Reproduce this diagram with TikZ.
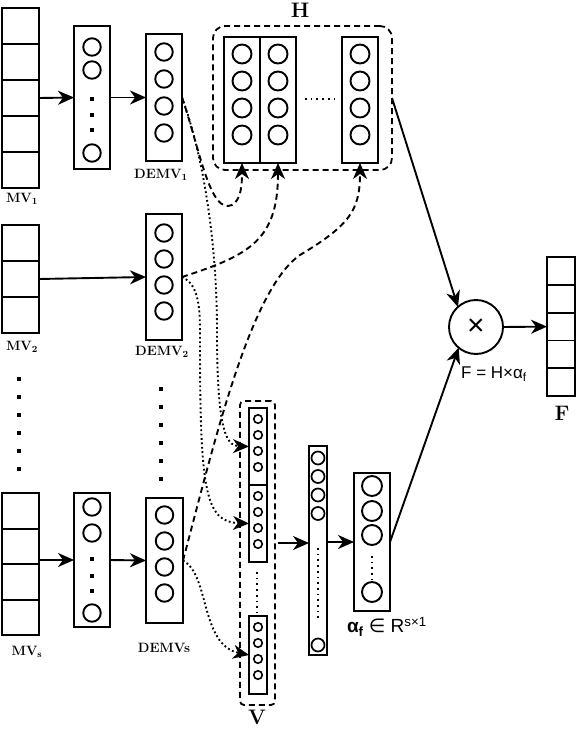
\documentclass[tikz,border=0pt]{standalone}
\usepackage{fontspec}
\newfontfamily\lsans{Liberation Sans}
\newfontfamily\dvsans{DejaVu Sans}
\usetikzlibrary{arrows.meta,calc}
\begin{document}
\begin{tikzpicture}[x=1pt,y=-1pt,
  every node/.style={inner sep=0pt, outer sep=0pt},
  cellv/.style={draw, line width=2pt, minimum width=37pt, minimum height=36pt},
  fcell/.style={draw, line width=1.8pt, minimum width=28pt, minimum height=27.8pt},
  col/.style={draw, line width=2pt},
  nc/.style={circle, draw, line width=1.9pt, minimum size=17.5pt},
  hc/.style={circle, draw, line width=1.9pt, minimum size=19pt},
  sc/.style={circle, draw, line width=1.6pt, minimum size=8.5pt},
  mc/.style={circle, draw, line width=1.7pt, minimum size=13pt},
  ac/.style={circle, draw, line width=1.9pt, minimum size=20pt},
  sq/.style={fill, minimum size=4.8pt},
  vdot/.style={fill, minimum size=4.2pt},
  arr/.style={-{Stealth[length=16pt,width=14pt,inset=5pt]}, line width=1.9pt},
  dsh/.style={arr, dash pattern=on 6pt off 4pt},
  dtt/.style={arr, dash pattern=on 1.8pt off 2.6pt},
  grp/.style={draw, line width=1.8pt, dash pattern=on 6pt off 4pt},
  fine/.style={line width=1.7pt, dash pattern=on 1.7pt off 4pt},
  lab/.style={font=\fontsize{13.5}{15}\selectfont\bfseries},
  big/.style={font=\fontsize{21}{23}\selectfont\bfseries},
  sl/.style={font=\lsans\fontsize{17}{19}\selectfont}
]
\useasboundingbox (0,0) rectangle (578,730);

% ---------- MV1 row ----------
\foreach \i/\y in {1/26,2/62,3/98,4/134,5/170}
  \node[cellv] (mva\i) at (20.5,\y) {};
\node[lab] (mvalab) at (22,199) {MV\textsubscript{1}};

\node[col, minimum width=36pt, minimum height=143pt] (hda) at (92,97.5) {};
\node[nc] (hda1) at (92,47) {};
\node[nc] (hda2) at (92,70) {};
\foreach \y in {99,115,130} \node[sq] (hdas\y) at (92,\y) {};
\node[nc] (hda3) at (92,153) {};

\node[col, minimum width=36pt, minimum height=127pt] (dma) at (164,97.5) {};
\foreach \i/\y in {1/52,2/79,3/106,4/133} \node[nc] (dma\i) at (164,\y) {};
\node[lab] (dmalab) at (161,175) {DEMV\textsubscript{1}};

% ---------- H ----------
\node[grp, rounded corners=12pt, minimum width=179pt, minimum height=144pt] (hgrp) at (302.5,98) {};
\node[big] (hlab) at (300,10) {H};
\foreach \n/\x in {1/242,2/278,3/360}{
  \node[col, minimum width=36pt, minimum height=126pt] (hb\n) at (\x,100) {};
  \foreach \j/\y in {1/54,2/81,3/108,4/135} \node[hc] (hb\n c\j) at (\x,\y) {};
}
\draw[fine] (305,99) -- (335,99);

% ---------- MV2 row ----------
\foreach \i/\y in {1/243,2/279,3/315}
  \node[cellv] (mvb\i) at (20.5,\y) {};
\node[lab] (mvblab) at (22,347) {MV\textsubscript{2}};

\node[col, minimum width=36pt, minimum height=126pt] (dmb) at (164,277) {};
\foreach \i/\y in {1/233,2/259,3/285,4/311} \node[nc] (dmb\i) at (164,\y) {};
\node[lab] (dmblab) at (162,352) {DEMV\textsubscript{2}};

% vertical ellipsis dots
\foreach \y in {379,397,415,433,451,469} \node[vdot] (ld\y) at (19,\y) {};
\foreach \y in {389,407,425,443,461,479} \node[vdot] (md\y) at (161,\y) {};

% ---------- MVs row ----------
\foreach \i/\y in {1/510.8,2/546.4,3/582,4/617.6}
  \node[cellv, minimum height=35.6pt] (mvs\i) at (20.5,\y) {};
\node[lab] (mvslab) at (27,652) {MV\textsubscript{s}};

\node[col, minimum width=36pt, minimum height=134pt] (hds) at (92,560) {};
\node[nc] (hds1) at (92,507) {};
\node[nc] (hds2) at (92,533) {};
\foreach \y in {559,576,591} \node[sq] (hdss\y) at (92,\y) {};
\node[nc] (hds3) at (92,613) {};

\node[col, minimum width=37pt, minimum height=125pt] (dms) at (164.5,560.5) {};
\foreach \i/\y in {1/515,2/541,3/567,4/593} \node[nc] (dms\i) at (164.5,\y) {};
\node[lab] (dmslab) at (164,648) {DEMVs};

% ---------- V ----------
\node[grp, rounded corners=4pt, minimum width=35pt, minimum height=304pt] (vgrp) at (257.5,553) {};
\node[big] (vlab) at (257,717) {V};
\node[col, minimum width=18pt, minimum height=77pt] (va) at (258,446.5) {};
\node[col, minimum width=18pt, minimum height=77pt] (vb) at (258,523.5) {};
\node[col, minimum width=18pt, minimum height=78pt] (vc) at (258,655) {};
\foreach \j/\y in {1/419,2/435,3/451,4/467} \node[sc] (vac\j) at (258,\y) {};
\foreach \j/\y in {1/496,2/512,3/528,4/544} \node[sc] (vbc\j) at (258,\y) {};
\foreach \j/\y in {1/627,2/643,3/659,4/675} \node[sc] (vcc\j) at (258,\y) {};
\draw[fine] (257,572) -- (257,612);

% ---------- big column ----------
\node[col, minimum width=18pt, minimum height=209pt] (bcol) at (318,550.5) {};
\foreach \j/\y in {1/458,2/476.5,3/495,4/513.5,5/645} \node[mc] (bc\j) at (318,\y) {};
\draw[fine] (318,548) -- (318,622);

% ---------- alpha ----------
\node[col, minimum width=36pt, minimum height=138pt] (acol) at (372,542) {};
\foreach \j/\y in {1/486,2/511,3/535,4/592} \node[ac] (ac\j) at (372,\y) {};
\draw[fine] (372,556) -- (372,579);
\node[font=\lsans\fontsize{19}{21}\selectfont, anchor=west] (alab) at (347,627)
  {{\bfseries α\textsubscript{f}} {\dvsans ∈} R\textsuperscript{s×1}};

% ---------- product and F ----------
\node[circle, draw, line width=1.9pt, minimum size=54pt] (mult) at (476,327)
  {\lsans\fontsize{30}{30}\selectfont ×};
\node[sl] (flab) at (494,374) {F = H×α\textsubscript{f}};
\foreach \i/\y in {1/271,2/298.8,3/326.6,4/354.4,5/382.2}
  \node[fcell] (fc\i) at (561,\y) {};
\node[big] (fvlab) at (562,413) {F};

% ---------- solid arrows ----------
\coordinate (vy) at (0,543);
\draw[arr] (mva3.east) -- (hda.west);
\draw[arr] (hda.east) -- (dma.west);
\draw[arr] (mvb2.east) -- (dmb.west);
\draw[arr] (hds.west -| mvs2.east) -- (hds.west);
\draw[arr] (hds.east) -- (dms.west);
\draw[arr, shorten <=3pt] (vgrp.east |- vy) -- (bcol.west |- vy);
\draw[arr] (bcol.east |- acol.west) -- (acol.west);
\draw[arr] (acol.east) -- (mult.230);
\draw[arr] (hgrp.east) -- (mult.132);
\draw[arr] (mult.east) -- (fc3.west);

% ---------- dashed arrows to H ----------
\draw[dsh] (dma.east) .. controls (200,150) and (210,215) .. (232,205)
  .. controls (241,200) and (242,185) .. (hb1.south);
\draw[dsh] (dmb.east) .. controls (250,255) and (278,240) .. (hb2.south);
\draw[dsh] (dms.east) .. controls (215,440) and (250,290) .. (300,255)
  .. controls (350,225) and (360,210) .. (hb3.south);

% ---------- dotted arrows to V ----------
\draw[dtt] (dma.east) .. controls (205,160) and (217,250) .. (217,330)
  .. controls (217,425) and (225,446) .. (va.west);
\draw[dtt] (dmb.east) .. controls (200,285) and (200,310) .. (200,340)
  .. controls (200,490) and (205,522) .. (vb.west);
\draw[dtt] (dms.east) .. controls (210,575) and (200,645) .. (vc.west);
\end{tikzpicture}
\end{document}
